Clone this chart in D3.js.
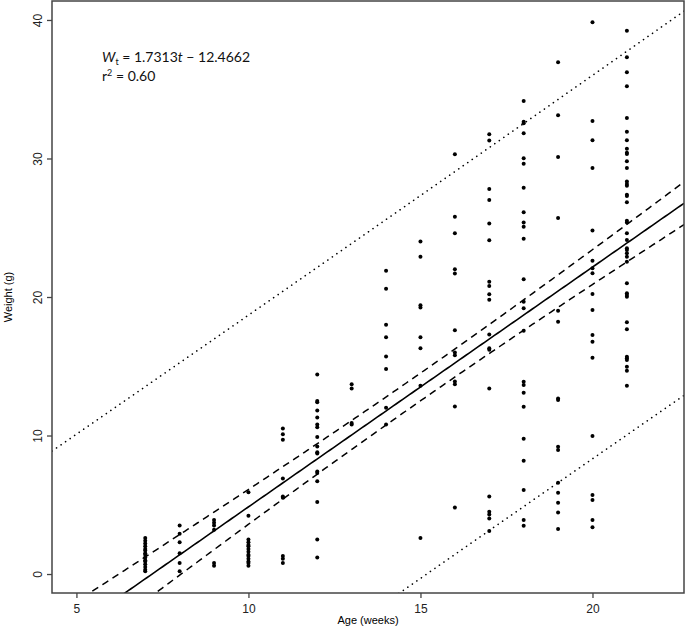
<!DOCTYPE html>
<html>
<head>
<meta charset="utf-8">
<script src="https://cdn.jsdelivr.net/npm/d3@7"></script>
<style>
  body { margin: 0; background: #fff; }
  .axis text { font-family: "Liberation Sans", Arial, sans-serif; font-size: 12px; fill: #222; }
  .axis path, .axis line { stroke: #444; stroke-width: 1.3; }
</style>
</head>
<body>
<div id="vis"></div>
<script>
// frame
const FRAME_WIDTH = 685;
const FRAME_HEIGHT = 635;
const MARGINS = {left: 52, right: 1, top: 1, bottom: 42};

const VIS_WIDTH = FRAME_WIDTH - MARGINS.left - MARGINS.right;
const VIS_HEIGHT = FRAME_HEIGHT - MARGINS.top - MARGINS.bottom;

// data: weight (g) read for each age (weeks)
const AGES = [7, 8, 9, 10, 11, 12, 13, 14, 15, 16, 17, 18, 19, 20, 21];
const WEIGHTS = [
  [2.6, 2.4, 2.2, 2.0, 1.8, 1.7, 1.5, 1.4, 1.2, 1.0, 0.9, 0.7, 0.5, 0.3, 0.2],
  [3.5, 2.9, 2.3, 1.5, 0.8, 0.2],
  [3.9, 3.7, 3.5, 3.2, 0.8, 0.6],
  [5.9, 4.2, 2.5, 2.3, 2.1, 2.0, 1.8, 1.6, 1.4, 1.3, 1.1, 0.9, 0.8, 0.6],
  [10.5, 10.1, 9.7, 6.9, 5.6, 5.5, 1.3, 1.1, 0.8],
  [14.4, 12.5, 12.4, 11.8, 11.3, 10.8, 10.6, 9.9, 9.2, 8.8, 8.7, 7.4, 7.3, 6.7, 5.2, 2.5, 1.2],
  [13.7, 13.4, 10.9, 10.8],
  [21.9, 20.6, 18.0, 17.1, 15.7, 14.8, 12.0, 10.8],
  [24.0, 22.9, 19.4, 19.25, 17.1, 16.3, 13.6, 2.6],
  [30.3, 25.8, 24.6, 22.0, 21.7, 17.6, 16.0, 15.8, 13.9, 13.7, 12.1, 4.8],
  [31.75, 31.3, 27.8, 27.0, 25.3, 24.1, 21.1, 20.8, 20.2, 19.8, 17.3, 16.3, 16.2, 13.4, 5.6, 4.5, 4.3, 4.0, 3.1],
  [34.15, 32.66, 32.54, 31.82, 30.01, 29.62, 27.89, 26.12, 25.37, 25.08, 24.21, 21.28, 19.66, 19.18,
   17.57, 13.89, 13.65, 13.09, 12.08, 9.77, 8.18, 6.06, 3.90, 3.49],
  [36.94, 33.12, 30.11, 25.70, 19.01, 18.22, 12.68, 12.56, 9.19, 8.95, 6.59, 5.87, 5.15, 4.45, 3.25],
  [39.83, 32.71, 31.31, 29.31, 24.81, 22.62, 22.07, 21.71, 20.22, 19.06, 17.26, 16.77, 15.62, 9.96,
   5.70, 5.34, 3.90, 3.37],
  [39.23, 37.31, 36.22, 35.21, 32.92, 31.93, 31.31, 30.71, 30.42, 30.32, 29.80, 29.31, 28.33, 28.16,
   28.04, 27.39, 27.29, 26.84, 25.51, 25.37, 24.60, 24.12, 23.52, 23.39, 23.16, 22.91, 22.55, 20.99,
   20.27, 20.14, 20.02, 18.17, 17.67, 15.69, 15.57, 15.45, 14.97, 14.68, 13.60]
];

// fitted model from the annotation
const SLOPE = 1.7313;
const INTERCEPT = -12.4662;
const R_SQUARED = "0.60";

// band parameters of the fit (estimated from the drawn intervals)
const RESID_SE = 6.99;
const N_OBS = 190;
const MEAN_AGE = 15.0;
const SXX = 8140;
const T_CRIT = 1.972;

const X_TICKS = [5, 10, 15, 20];
const Y_TICKS = [0, 10, 20, 30, 40];

// flatten into points
const points = [];
AGES.forEach((a, i) => {
  WEIGHTS[i].forEach((w) => { points.push({age: a, weight: w}); });
});

const svg = d3.select("#vis")
  .append("svg")
    .attr("width", FRAME_WIDTH)
    .attr("height", FRAME_HEIGHT);

const X_SCALE = d3.scaleLinear()
  .domain([4.29, 22.66])
  .range([MARGINS.left, MARGINS.left + VIS_WIDTH]);

const Y_SCALE = d3.scaleLinear()
  .domain([-1.37, 41.37])
  .range([MARGINS.top + VIS_HEIGHT, MARGINS.top]);

// clip to plot box
svg.append("clipPath")
    .attr("id", "clip")
  .append("rect")
    .attr("x", MARGINS.left)
    .attr("y", MARGINS.top)
    .attr("width", VIS_WIDTH)
    .attr("height", VIS_HEIGHT);

const grid = d3.range(0, 201).map((i) => 4.29 + (22.66 - 4.29) * i / 200);
function band(sign, extra) {
  return grid.map((t) => {
    const fit = SLOPE * t + INTERCEPT;
    const se = RESID_SE * Math.sqrt(extra + 1 / N_OBS + (t - MEAN_AGE) ** 2 / SXX);
    return [t, fit + sign * T_CRIT * se];
  });
}

const line = d3.line()
  .x((d) => X_SCALE(d[0]))
  .y((d) => Y_SCALE(d[1]));

const plot = svg.append("g").attr("clip-path", "url(#clip)");

// fitted line
plot.append("path")
  .attr("d", line(grid.map((t) => [t, SLOPE * t + INTERCEPT])))
  .attr("fill", "none")
  .attr("stroke", "#000")
  .attr("stroke-width", 1.6);

// confidence band (dashed)
[1, -1].forEach((sg) => {
  plot.append("path")
    .attr("d", line(band(sg, 0)))
    .attr("fill", "none")
    .attr("stroke", "#000")
    .attr("stroke-width", 1.5)
    .attr("stroke-dasharray", "7,5");
});

// prediction band (dotted)
[1, -1].forEach((sg) => {
  plot.append("path")
    .attr("d", line(band(sg, 1)))
    .attr("fill", "none")
    .attr("stroke", "#000")
    .attr("stroke-width", 1.6)
    .attr("stroke-linecap", "round")
    .attr("stroke-dasharray", "0.1,5.4");
});

// points
plot.selectAll(".point")
  .data(points)
  .enter()
  .append("circle")
    .attr("class", "point")
    .attr("cx", (d) => X_SCALE(d.age))
    .attr("cy", (d) => Y_SCALE(d.weight))
    .attr("r", 2)
    .attr("fill", "#000");

// box
svg.append("rect")
  .attr("x", MARGINS.left)
  .attr("y", MARGINS.top)
  .attr("width", VIS_WIDTH)
  .attr("height", VIS_HEIGHT)
  .attr("fill", "none")
  .attr("stroke", "#444")
  .attr("stroke-width", 1.5);

// axes
svg.append("g")
  .attr("class", "axis")
  .attr("transform", "translate(0," + (MARGINS.top + VIS_HEIGHT) + ")")
  .call(d3.axisBottom(X_SCALE).tickValues(X_TICKS).tickSize(5).tickPadding(6))
  .call((g) => g.select(".domain").remove());

svg.append("g")
  .attr("class", "axis")
  .attr("transform", "translate(" + MARGINS.left + ",0)")
  .call(d3.axisLeft(Y_SCALE).tickValues(Y_TICKS).tickSize(5).tickPadding(6))
  .call((g) => g.select(".domain").remove())
  .selectAll("text")
    .attr("x", 0)
    .attr("y", 0)
    .attr("dy", "0")
    .attr("transform", "translate(-10,0) rotate(-90)")
    .style("text-anchor", "middle");

// axis titles
svg.append("text")
  .attr("x", MARGINS.left + VIS_WIDTH / 2)
  .attr("y", 624)
  .attr("text-anchor", "middle")
  .attr("font-family", "Liberation Sans, Arial, sans-serif")
  .attr("font-size", "11px")
  .text("Age (weeks)");

svg.append("text")
  .attr("transform", "translate(12," + (MARGINS.top + VIS_HEIGHT / 2) + ") rotate(-90)")
  .attr("text-anchor", "middle")
  .attr("font-family", "Liberation Sans, Arial, sans-serif")
  .attr("font-size", "11px")
  .text("Weight (g)");

// annotation
const ann = svg.append("text")
  .attr("x", 102)
  .attr("y", 62)
  .attr("font-family", "Lato, 'Open Sans', sans-serif")
  .attr("font-size", "14px")
  .attr("fill", "#111");
ann.append("tspan").attr("font-style", "italic").text("W");
ann.append("tspan").attr("font-size", "9px").attr("dy", 3).text("t");
ann.append("tspan").attr("dy", -3).text(" = " + SLOPE + "");
ann.append("tspan").attr("font-style", "italic").text("t");
ann.append("tspan").text(" \u2212 " + Math.abs(INTERCEPT));

const ann2 = svg.append("text")
  .attr("x", 102)
  .attr("y", 81)
  .attr("font-family", "Lato, 'Open Sans', sans-serif")
  .attr("font-size", "14px")
  .attr("fill", "#111");
ann2.append("tspan").text("r");
ann2.append("tspan").attr("font-size", "9px").attr("dy", -5).text("2");
ann2.append("tspan").attr("dy", 5).text(" = " + R_SQUARED);
</script>
</body>
</html>
